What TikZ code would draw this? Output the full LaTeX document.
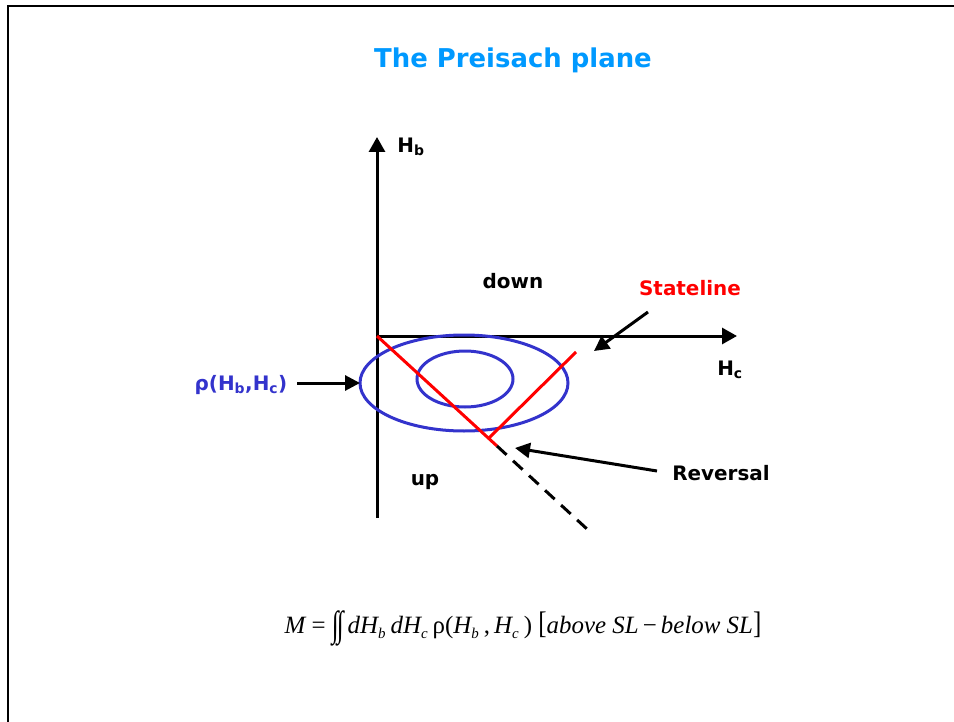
\documentclass[tikz,border=0pt]{standalone}
\usepackage{graphicx}
\usepackage{fontspec}
\setmainfont{DejaVu Sans}
\newfontfamily\fmla{Liberation Serif}
\usetikzlibrary{arrows.meta,positioning}
\definecolor{titleblue}{RGB}{0,153,255}
\definecolor{rhoblue}{RGB}{51,51,204}
\newcommand\sbs[1]{\raisebox{-.45ex}{\fontsize{15}{15}\selectfont #1}\kern.2em}

\begin{document}
\begin{tikzpicture}[x=1bp,y=-1bp,
every node/.style={font=\bfseries\fontsize{20}{24}\selectfont},
axis/.style={line width=3bp,-{Triangle[length=15bp,width=16bp]}},
pointer/.style={line width=3bp,-{Triangle[length=15bp,width=15bp]}},
state/.style={red,line width=3bp},
dens/.style={rhoblue,line width=3bp}]
\useasboundingbox (0,0) rectangle (954,722);
% frame
\draw[line width=2bp] (8,722) -- (8,6) -- (954,6);
\node[titleblue,font=\bfseries\fontsize{26}{30}\selectfont] (title) at (513,60) {The Preisach plane};
% axes
\coordinate (O) at (377,336);
\coordinate (Obot) at (377,518);
\coordinate (Hbtip) at (377,137);
\coordinate (Hctip) at (737,336);
\draw[axis] (Obot) -- (Hbtip);
\draw[axis] (O) -- (Hctip);
\node (Hb) at (411,147) {H\textsubscript{b}};
\node (Hc) at (730,370) {H\textsubscript{c}};
\node (down) at (513,281) {down};
\node (up) at (425,482) {up};
% density
\draw[dens] (464,383) ellipse (104 and 48);
\draw[dens] (465,379) ellipse (48 and 28);
% stateline
\coordinate (corner) at (489,438);
\coordinate (rev) at (497,446);
\coordinate (slend) at (576,352);
\coordinate (dashend) at (587,529);
\draw[state] (O) -- (rev);
\draw[state] (corner) -- (slend);
\draw[line width=3bp,dash pattern=on 13bp off 8.8bp] (rev) -- (dashend);
% labels
\node[red] (sl) at (690,288) {Stateline};
\node (reversal) at (721,473) {Reversal};
\node[rhoblue] (rho) at (241,385) {ρ(H\textsubscript{b},H\textsubscript{c})};
\coordinate (sltail) at (648,312);
\coordinate (sltip) at (594,351);
\coordinate (revtail) at (657,471);
\coordinate (revtip) at (515,448);
\coordinate (rhotail) at (297,383);
\coordinate (rhotip) at (360,383);
\draw[pointer] (sltail) -- (sltip);
\draw[pointer] (revtail) -- (revtip);
\draw[pointer] (rhotail) -- (rhotip);
% formula
\node[font=\fmla\fontsize{25}{30}\selectfont] (formula) at (523,628)
{\itshape M \upshape= \raisebox{-.2ex}{\scalebox{1}[1.45]{∫\kern-.08em∫}}\,\itshape dH\sbs{b} dH\sbs{c} \upshape ρ(\itshape H\sbs{b}\upshape,\,\itshape H\sbs{c}\upshape) \scalebox{1}[1.25]{[}\itshape above SL\upshape\,−\,\itshape below SL\upshape\scalebox{1}[1.25]{]}};
\end{tikzpicture}
\end{document}
